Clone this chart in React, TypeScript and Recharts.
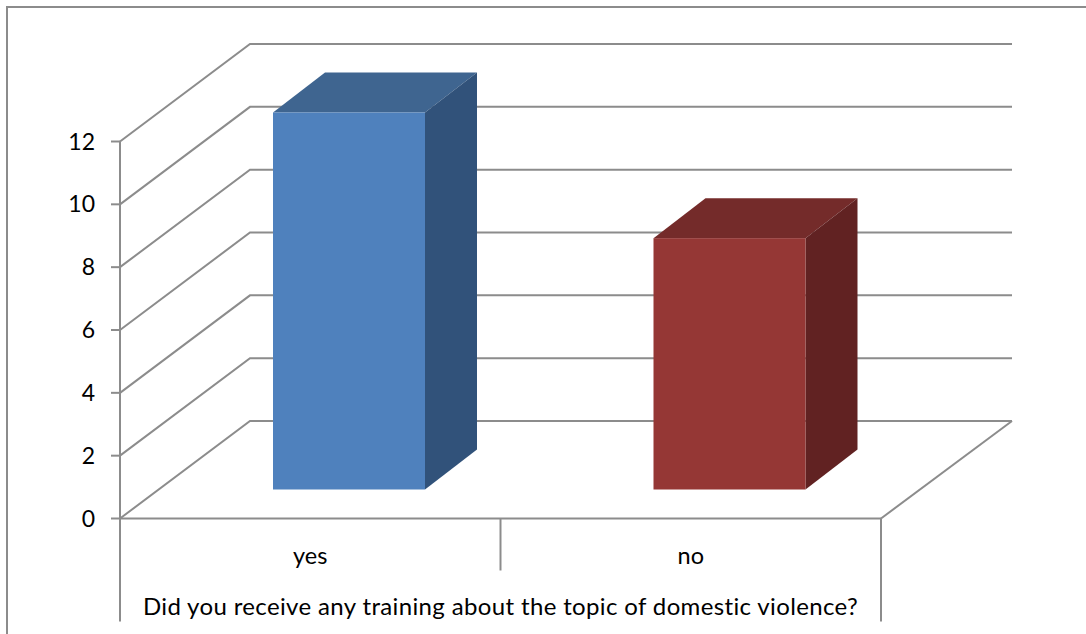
import React from 'react';
import { BarChart, Bar, XAxis, YAxis, CartesianGrid } from 'recharts';

const categories = ['yes', 'no'];
const counts = [12, 8];
const yTicks = [0, 2, 4, 6, 8, 10, 12];
const axisTitle = 'Did you receive any training about the topic of domestic violence?';

const frontColors = ['#4f81bd', '#953735'];
const topColors = ['#3f6590', '#742b2a'];
const sideColors = ['#31527a', '#612222'];

const data = categories.map((name, i) => ({ name, value: counts[i] }));

const LINE = '#8c8c8c';
const FONT = 'Lato, sans-serif';
// projection of the 3D box: how far back the walls and bars go
const WALL_DX = 130;
const WALL_DY = -97.5;
const BAR_SHIFT_X = 39;
const BAR_SHIFT_Y = -29;
const BAR_DX = 52;
const BAR_DY = -40;

const WallLine = (props: any) => {
  const { x1, x2, y1 } = props;
  const isFloor = Math.abs(y1 - 518.5) < 1;
  return (
    <g key={props.key ?? y1} fill="none" stroke={LINE} strokeWidth={2}>
      <polyline points={`${x1},${y1} ${x1 + WALL_DX},${y1 + WALL_DY} ${x2 + WALL_DX + 1},${y1 + WALL_DY}`} />
      {isFloor && <line x1={x2} y1={y1} x2={x2 + WALL_DX + 1} y2={y1 + WALL_DY} />}
    </g>
  );
};

const Box = (props: any) => {
  const { x, y, width, height, index } = props;
  const left = x + BAR_SHIFT_X;
  const top = y + BAR_SHIFT_Y;
  const right = left + width;
  const bottom = top + height;
  return (
    <g>
      <polygon
        points={`${left},${top} ${left + BAR_DX},${top + BAR_DY} ${right + BAR_DX},${top + BAR_DY} ${right},${top}`}
        fill={topColors[index]}
      />
      <polygon
        points={`${right},${top} ${right + BAR_DX},${top + BAR_DY} ${right + BAR_DX},${bottom + BAR_DY} ${right},${bottom}`}
        fill={sideColors[index]}
      />
      <rect x={left} y={top} width={width} height={height} fill={frontColors[index]} />
    </g>
  );
};

const CategoryTick = (props: any) => {
  const { x, y, payload, index } = props;
  const half = payload.offset;
  // the tick's y already includes the default tick size and margin
  const base = y - 8;
  const outer = (edge: number) => <line x1={edge} y1={base} x2={edge} y2={base + 103} stroke={LINE} strokeWidth={2} />;
  return (
    <g>
      {index === 0 && outer(x - half)}
      {index === categories.length - 1 ? outer(x + half) : (
        <line x1={x + half} y1={base} x2={x + half} y2={base + 52} stroke={LINE} strokeWidth={2} />
      )}
      <text x={x} y={base + 45} textAnchor="middle" fontFamily={FONT} fontSize={23.5} fill="#000">
        {payload.value}
      </text>
    </g>
  );
};

export default function App() {
  return (
    <div style={{ position: 'absolute', left: 0, top: 0, width: 1086, height: 634, overflow: 'hidden', background: '#fff' }}>
      <div style={{ position: 'absolute', left: 6, top: 6, right: -4, bottom: -4, borderLeft: `2px solid ${LINE}`, borderTop: `2px solid ${LINE}` }} />
      <BarChart
        width={1086}
        height={634}
        data={data}
        margin={{ top: 141.5, right: 205, bottom: 0, left: 0 }}
        barSize={152}
        style={{ position: 'absolute', left: 0, top: 0 }}
      >
        <CartesianGrid vertical={false} horizontal={WallLine} />
        <XAxis
          dataKey="name"
          height={115.5}
          axisLine={{ stroke: LINE, strokeWidth: 2 }}
          tickLine={false}
          tick={CategoryTick}
          interval={0}
          label={{ value: axisTitle, position: 'insideBottom', offset: 19, fontFamily: FONT, fontSize: 24, letterSpacing: 0.36, fill: '#000' }}
        />
        <YAxis
          width={120}
          domain={[0, 12]}
          ticks={yTicks}
          interval={0}
          axisLine={{ stroke: LINE, strokeWidth: 2 }}
          tickLine={{ stroke: LINE, strokeWidth: 2 }}
          tickSize={9}
          tickMargin={16}
          tick={{ fontFamily: FONT, fontSize: 23, fill: '#000' }}
        />
        <Bar dataKey="value" shape={Box} isAnimationActive={false} />
      </BarChart>
    </div>
  );
}
